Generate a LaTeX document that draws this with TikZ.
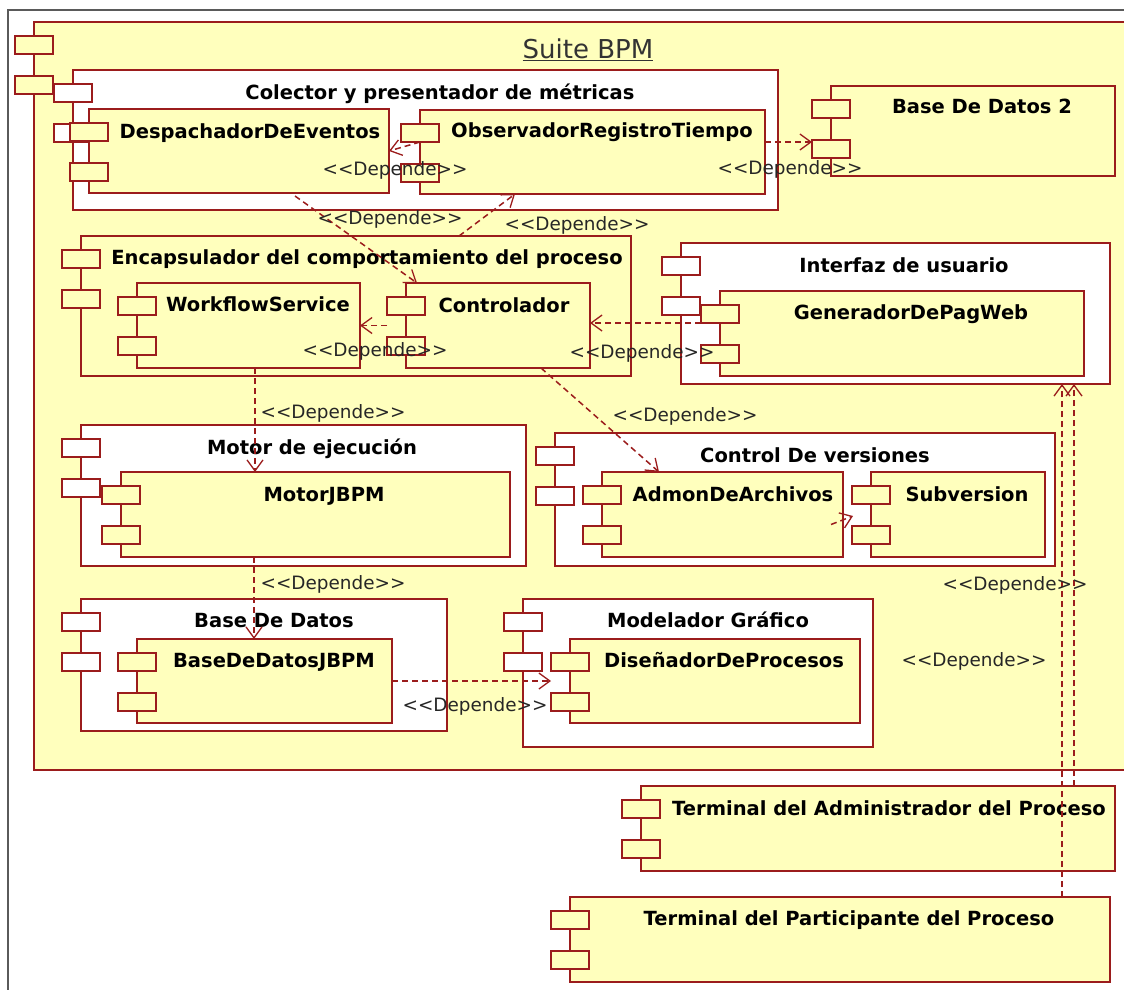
\documentclass[tikz,border=0pt]{standalone}
\usepackage{fontspec}
\setmainfont{DejaVu Sans}
\usetikzlibrary{arrows.meta,fit,calc}
\definecolor{umlred}{RGB}{155,28,28}
\definecolor{umlyellow}{RGB}{255,255,189}
\definecolor{framegray}{RGB}{90,90,90}
\newcommand\depl{<{}<Depende>{}>}
% component: name, x1, y1, x2, y2, body fill, port fill
\newcommand\umlcomp[7]{%
  \node[cbox, fill=#6, fit={(#2,#3) (#4,#5)}] (#1) {};
  \node[cbox, fill=#7, fit={(#2-19,#3+14) (#2+19,#3+32)}] (#1-p1) {};
  \node[cbox, fill=#7, fit={(#2-19,#3+54) (#2+19,#3+72)}] (#1-p2) {};
}
\tikzset{
  cbox/.style={draw=umlred, line width=1.9pt, inner sep=0pt, outer sep=0pt},
  ctitle/.style={anchor=base, inner sep=0pt, text=black, font=\fontsize{19.5}{22}\selectfont\bfseries},
  deplabel/.style={anchor=base, inner sep=0pt, text=black!85, font=\fontsize{18.4}{20}\selectfont},
  dep/.style={draw=umlred, line width=1.5pt, dash pattern=on 6pt off 4pt,
    -{Straight Barb[length=11pt,width=16pt,line width=1.3pt]}},
}
\begin{document}
\begin{tikzpicture}[x=1pt,y=-1pt]
\path[use as bounding box, fill=white] (0,0) rectangle (1124,989);
\clip (0,0) rectangle (1124,989);
% outer frame
\draw[framegray, line width=1.6pt] (8,10) rectangle (1200,1100);
% package-like outer component
\umlcomp{suite}{34}{22}{1160}{770}{umlyellow}{umlyellow}
\node[anchor=base, inner sep=0pt, text=black!80, font=\fontsize{26}{28}\selectfont] (t-suite) at (588,58) {\underline{Suite BPM}};

% metrics collector
\umlcomp{col}{73}{70}{778}{210}{white}{white}
\umlcomp{desp}{89}{109}{389}{193}{umlyellow}{umlyellow}
\umlcomp{obs}{420}{110}{765}{194}{umlyellow}{umlyellow}
\umlcomp{bd2}{831}{86}{1115}{176}{umlyellow}{umlyellow}

% process behaviour wrapper
\umlcomp{enc}{81}{236}{631}{376}{umlyellow}{umlyellow}
\umlcomp{wf}{137}{283}{360}{368}{umlyellow}{umlyellow}
\umlcomp{ctrl}{406}{283}{590}{368}{umlyellow}{umlyellow}

% user interface
\umlcomp{intf}{681}{243}{1110}{384}{white}{white}
\umlcomp{gen}{720}{291}{1084}{376}{umlyellow}{umlyellow}

% engine
\umlcomp{mot}{81}{425}{526}{566}{white}{white}
\umlcomp{mjbpm}{121}{472}{510}{557}{umlyellow}{umlyellow}

% database
\umlcomp{bd}{81}{599}{447}{731}{white}{white}
\umlcomp{bdj}{137}{639}{392}{723}{umlyellow}{umlyellow}

% version control
\umlcomp{ctv}{555}{433}{1055}{566}{white}{white}
\umlcomp{admon}{602}{472}{843}{557}{umlyellow}{umlyellow}
\umlcomp{sub}{871}{472}{1045}{557}{umlyellow}{umlyellow}

% graphical modeler
\umlcomp{mod}{523}{599}{873}{747}{white}{white}
\umlcomp{dis}{570}{639}{860}{723}{umlyellow}{umlyellow}

% terminals
\umlcomp{adm}{641}{786}{1115}{871}{umlyellow}{umlyellow}
\umlcomp{part}{570}{897}{1110}{982}{umlyellow}{umlyellow}

% titles
\node[ctitle] (t-col) at (440,99) {Colector y presentador de métricas};
\node[ctitle] (t-desp) at (250,138) {DespachadorDeEventos};
\node[ctitle] (t-obs) at (602,137) {ObservadorRegistroTiempo};
\node[ctitle] (t-bd2) at (982,113) {Base De Datos 2};
\node[ctitle] (t-enc) at (367,264) {Encapsulador del comportamiento del proceso};
\node[ctitle] (t-wf) at (258,311) {WorkflowService};
\node[ctitle] (t-ctrl) at (504,312) {Controlador};
\node[ctitle] (t-intf) at (904,272) {Interfaz de usuario};
\node[ctitle] (t-gen) at (911,319) {GeneradorDePagWeb};
\node[ctitle] (t-mot) at (312,454) {Motor de ejecución};
\node[ctitle] (t-mjbpm) at (324,501) {MotorJBPM};
\node[ctitle] (t-bd) at (274,627) {Base De Datos};
\node[ctitle] (t-bdj) at (274,667) {BaseDeDatosJBPM};
\node[ctitle] (t-ctv) at (815,462) {Control De versiones};
\node[ctitle] (t-admon) at (733,501) {AdmonDeArchivos};
\node[ctitle] (t-sub) at (967,501) {Subversion};
\node[ctitle] (t-mod) at (708,627) {Modelador Gráfico};
\node[ctitle] (t-dis) at (724,667) {DiseñadorDeProcesos};
\node[ctitle] (t-adm) at (889,815) {Terminal del Administrador del Proceso};
\node[ctitle] (t-part) at (849,925) {Terminal del Participante del Proceso};

% dependencies
\draw[dep] (obs-p1.south) -- (desp.east);
\draw[dep] ($(obs.east)+(0,-10)$) coordinate (c1) -- (c1 -| bd2-p2.west);
\draw[dep] ($(desp.south west)+(206,3)$) -- ($(ctrl.north west)+(11,0)$);
\draw[dep] ($(enc.north west)+(378,0)$) -- ($(obs.south west)+(95,0)$);
\draw[dep] (ctrl-p1.west |- wf.east) -- (wf.east);
\draw[dep] (gen-p1.south west) -- (gen-p1.south west -| ctrl.east);
\draw[dep] ($(wf.south west)+(118,0)$) coordinate (c2) -- (c2 |- mjbpm.north);
\draw[dep] ($(mjbpm.south west)+(133,0)$) coordinate (c3) -- (c3 |- bdj.north);
\draw[dep] ($(ctrl.south west)+(135,0)$) -- ($(admon.north west)+(57,0)$);
\draw[dep] (bdj.east) -- (bdj.east -| dis-p2.west);
\draw[dep] ($(admon.east)+(-12,10)$) -- ($(sub.west)+(-18,1.5)$);
\draw[dep] ($(part.north west)+(492,0)$) coordinate (c4) -- (c4 |- intf.south);
\draw[dep] ($(adm.north west)+(433,0)$) coordinate (c5) -- (c5 |- intf.south);

% dependency labels
\node[deplabel] (l-od) at (395,175) {\depl};
\node[deplabel] (l-ob) at (790,174) {\depl};
\node[deplabel] (l-dc) at (390,224) {\depl};
\node[deplabel] (l-eo) at (577,230) {\depl};
\node[deplabel] (l-cw) at (375,356) {\depl};
\node[deplabel] (l-gc) at (642,358) {\depl};
\node[deplabel] (l-wm) at (333,418) {\depl};
\node[deplabel] (l-ca) at (685,421) {\depl};
\node[deplabel] (l-mb) at (333,589) {\depl};
\node[deplabel] (l-bd) at (475,711) {\depl};
\node[deplabel] (l-t1) at (1015,590) {\depl};
\node[deplabel] (l-t2) at (974,666) {\depl};
\end{tikzpicture}
\end{document}
